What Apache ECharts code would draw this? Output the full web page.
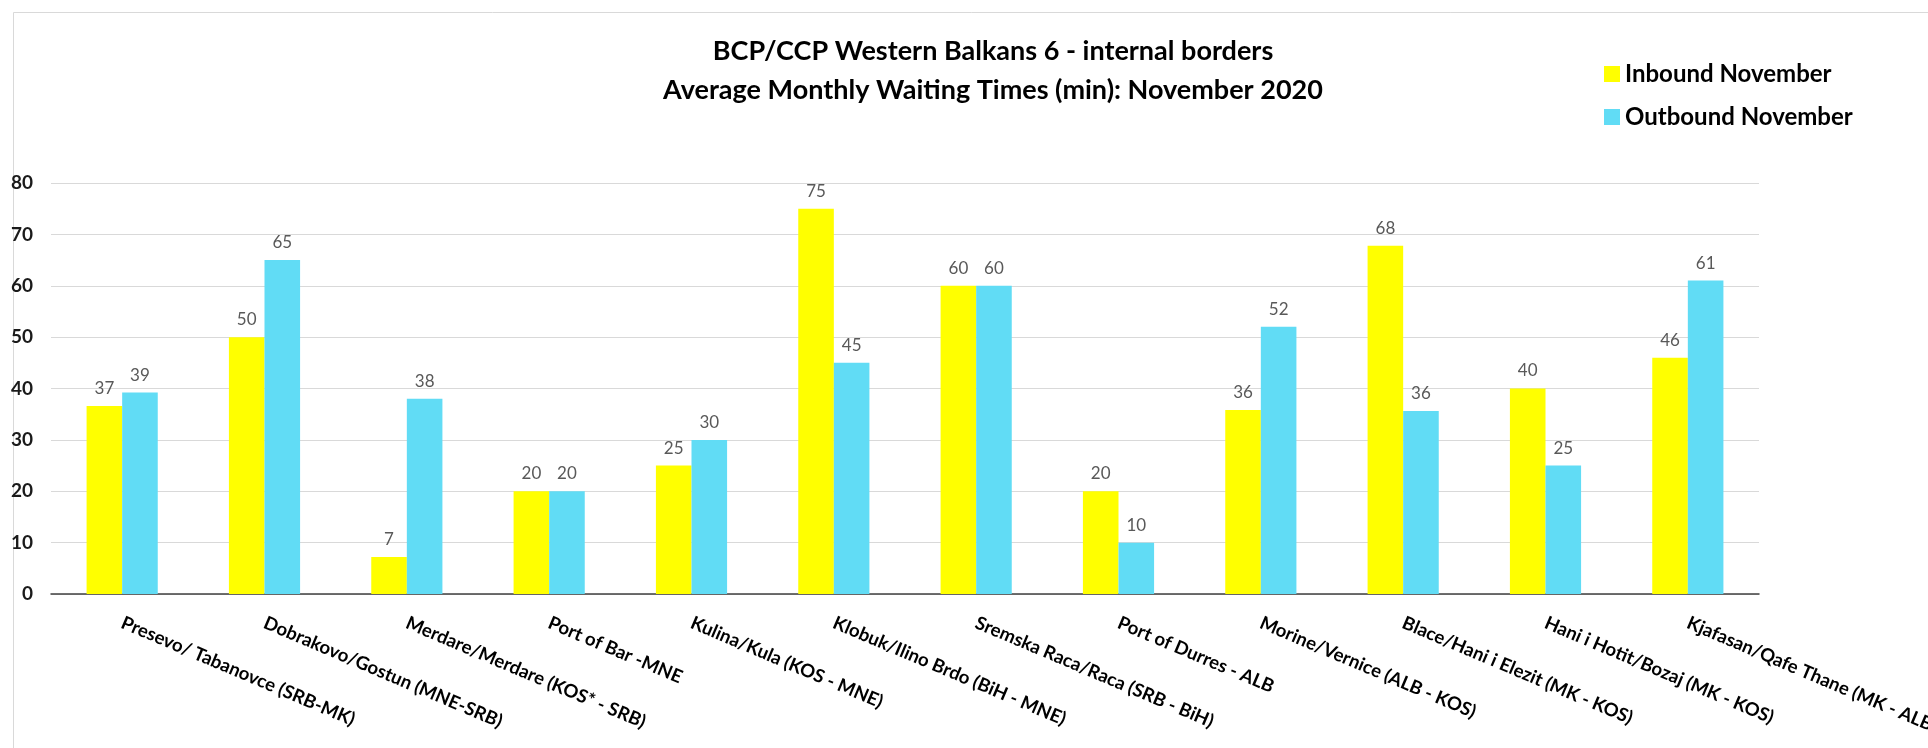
<!DOCTYPE html>
<html>
<head>
<meta charset="utf-8">
<script src="https://cdn.jsdelivr.net/npm/echarts@6/dist/echarts.min.js"></script>
<style>
html,body{margin:0;padding:0;background:#fff;}
#chart{width:1928px;height:748px;}
</style>
</head>
<body>
<div id="chart"></div>
<script>
const categories = [
  "Presevo/ Tabanovce (SRB-MK)",
  "Dobrakovo/Gostun (MNE-SRB)",
  "Merdare/Merdare (KOS* - SRB)",
  "Port of Bar -MNE",
  "Kulina/Kula (KOS - MNE)",
  "Klobuk/Ilino Brdo (BiH - MNE)",
  "Sremska Raca/Raca (SRB - BiH)",
  "Port of Durres - ALB",
  "Morine/Vernice (ALB - KOS)",
  "Blace/Hani i Elezit (MK - KOS)",
  "Hani i Hotit/Bozaj (MK - KOS)",
  "Kjafasan/Qafe Thane (MK - ALB)"
];
const inbound = [36.6, 50, 7.2, 20, 25, 75, 60, 20, 35.8, 67.8, 40, 46];
const outbound = [39.2, 65, 38, 20, 30, 45, 60, 10, 52, 35.6, 25, 61];
const seriesNames = ["Inbound November", "Outbound November"];
const titleLines = ["BCP/CCP Western Balkans 6 - internal borders", "Average Monthly Waiting Times (min): November 2020"];
const yTicks = { min: 0, max: 80, interval: 10 };

const FONT = "Lato, 'Open Sans', sans-serif";
const chart = echarts.init(document.getElementById('chart'));
const valueLabel = {
  show: true,
  position: 'top',
  distance: 9,
  fontFamily: FONT,
  fontSize: 17,
  color: '#595959',
  formatter: p => Math.round(p.value)
};
chart.setOption({
  animation: false,
  backgroundColor: '#ffffff',
  title: {
    text: titleLines.join('\n'),
    left: 993,
    top: 32,
    textAlign: 'center',
    padding: 0,
    textStyle: {
      fontFamily: FONT,
      fontSize: 27,
      fontWeight: 'bold',
      color: '#000',
      lineHeight: 39
    }
  },
  legend: {
    orient: 'vertical',
    left: 1604,
    top: 62,
    itemWidth: 16,
    itemHeight: 16,
    itemGap: 19,
    icon: 'rect',
    padding: 0,
    textStyle: {
      fontFamily: FONT,
      fontSize: 24,
      fontWeight: 'bold',
      color: '#000',
      lineHeight: 24
    },
    data: seriesNames
  },
  graphic: [{
    type: 'rect',
    left: 11, top: 10,
    shape: { width: 2000, height: 2000 },
    style: { fill: 'none', stroke: '#D9D9D9', lineWidth: 1 },
    silent: true
  }],
  grid: { left: 51, right: 169, top: 183, bottom: 154, containLabel: false, outerBoundsMode: 'none' },
  xAxis: {
    type: 'category',
    data: categories,
    axisTick: { show: false },
    axisLine: { lineStyle: { color: '#404040', width: 1.5 } },
    axisLabel: {
      interval: 0,
      rotate: -23,
      margin: 28,
      fontFamily: FONT,
      fontSize: 18.5,
      fontWeight: 'bold',
      color: '#000',
      hideOverlap: false
    }
  },
  yAxis: {
    type: 'value',
    min: yTicks.min,
    max: yTicks.max,
    interval: yTicks.interval,
    axisLine: { show: false },
    axisTick: { show: false },
    splitLine: { lineStyle: { color: '#D9D9D9', width: 1 } },
    axisLabel: {
      margin: 18,
      fontFamily: FONT,
      fontSize: 19,
      fontWeight: 'bold',
      color: '#1a1a1a'
    }
  },
  series: [
    {
      name: seriesNames[0],
      type: 'bar',
      data: inbound,
      barGap: '0%',
      barCategoryGap: '50%',
      itemStyle: { color: '#FFFF00' },
      label: valueLabel,
      emphasis: { disabled: true }
    },
    {
      name: seriesNames[1],
      type: 'bar',
      data: outbound,
      barGap: '0%',
      barCategoryGap: '50%',
      itemStyle: { color: '#61DCF5' },
      label: valueLabel,
      emphasis: { disabled: true }
    }
  ]
});
</script>
</body>
</html>
